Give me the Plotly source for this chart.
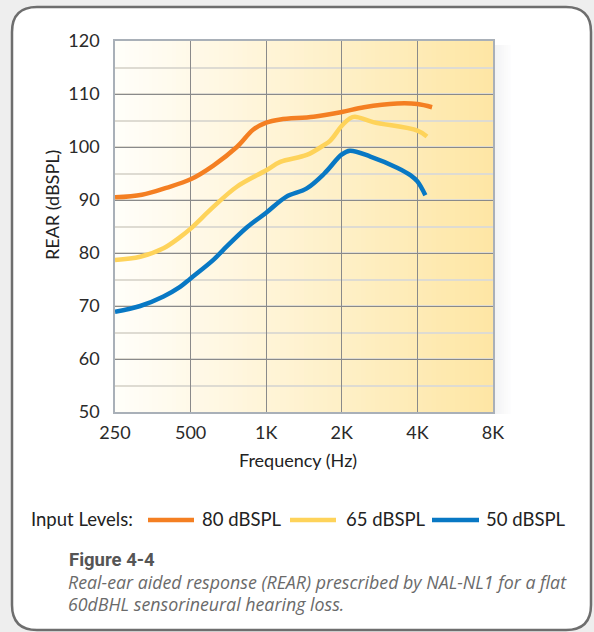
import plotly.graph_objects as go

# ---------------- data ----------------
f80 = [250, 320, 400, 500, 616, 764, 889, 1000, 1138, 1544, 2000, 2453, 3320, 4000, 4576]
v80 = [90.5, 91.0, 92.3, 93.9, 96.5, 100.0, 103.3, 104.6, 105.2, 105.7, 106.6, 107.5, 108.2, 108.1, 107.5]

f65 = [250, 315, 390, 454, 500, 616, 764, 1000, 1138, 1451, 1704, 1800, 2000, 2153, 2254, 2666, 4000, 4366]
v65 = [78.7, 79.3, 80.9, 83.0, 84.6, 88.7, 92.5, 95.6, 97.2, 98.5, 100.4, 101.2, 104.0, 105.4, 105.7, 104.7, 103.1, 102.0]

f50 = [250, 315, 390, 454, 500, 616, 675, 841, 1000, 1200, 1451, 1704, 2000, 2153, 2598, 3320, 3750, 4000, 4303]
v50 = [68.9, 70.0, 71.8, 73.6, 75.2, 78.7, 80.6, 84.9, 87.6, 90.6, 92.2, 95.0, 98.6, 99.3, 98.2, 96.1, 94.7, 93.5, 90.9]

series_names = ["80 dBSPL", "65 dBSPL", "50 dBSPL"]
series_colors = ["#F47F22", "#FED35A", "#0878C4"]

x_tickvals = [250, 500, 1000, 2000, 4000, 8000]
x_ticktext = ["250", "500", "1K", "2K", "4K", "8K"]
y_tickvals = [50, 60, 70, 80, 90, 100, 110, 120]

# ---------------- geometry helpers ----------------
W, H = 594, 632
ML, MR, MT, MB = 115, 101, 41, 220
PW, PH = W - ML - MR, H - MT - MB


def px(x):
    return (x - ML) / PW


def py(y):
    return (H - MB - y) / PH


fig = go.Figure()
for fx, vy, name, col in zip([f80, f65, f50], [v80, v65, v50], series_names, series_colors):
    fig.add_trace(go.Scatter(x=fx, y=vy, mode="lines", name=name, showlegend=False,
                             line=dict(color=col, width=4.5, shape="spline", smoothing=1.0),
                             hoverinfo="skip"))

shapes = []
# outer rounded frame
l, t, r, b, rad = 12, 7, 591, 630, 25
path = (f"M {px(l+rad)},{py(t)} L {px(r-rad)},{py(t)} Q {px(r)},{py(t)} {px(r)},{py(t+rad)} "
        f"L {px(r)},{py(b-rad)} Q {px(r)},{py(b)} {px(r-rad)},{py(b)} "
        f"L {px(l+rad)},{py(b)} Q {px(l)},{py(b)} {px(l)},{py(b-rad)} "
        f"L {px(l)},{py(t+rad)} Q {px(l)},{py(t)} {px(l+rad)},{py(t)} Z")
shapes.append(dict(type="path", path=path, xref="paper", yref="paper",
                   fillcolor="white", line=dict(color="#6e6e6e", width=2.5), layer="below"))

# soft shadow right of plot area
for i in range(10):
    a = 0.10 * (1 - i / 10)
    shapes.append(dict(type="rect", xref="paper", yref="paper",
                       x0=1 + i * 1.8 / PW, x1=1 + (i + 1) * 1.8 / PW, y0=-2 / PH, y1=1 - 4 / PH,
                       fillcolor=f"rgba(120,125,135,{a:.3f})", line=dict(width=0), layer="below"))

# gradient background of plot area
N = 80
c0 = (255, 254, 250)
c1 = (254, 230, 164)
for i in range(N):
    tt = (i + 0.5) / N
    c = tuple(round(c0[k] + (c1[k] - c0[k]) * tt) for k in range(3))
    shapes.append(dict(type="rect", xref="paper", yref="paper",
                       x0=i / N, x1=(i + 1) / N + 0.002, y0=0, y1=1,
                       fillcolor=f"rgb{c}", line=dict(width=0), layer="below"))

# legend (drawn manually to match sample length)
leg_y = 520
leg_lines = [(148, 194), (290, 336), (432, 479)]
leg_text_x = [200, 344, 484]
for (x0, x1), col in zip(leg_lines, series_colors):
    shapes.append(dict(type="line", xref="paper", yref="paper", x0=px(x0), x1=px(x1),
                       y0=py(leg_y), y1=py(leg_y), line=dict(color=col, width=4.5), layer="above"))


def ann(text, x, y, size, family="Lato", color="#222", xanchor="left", angle=0):
    return dict(text=text, x=px(x), y=py(y), xref="paper", yref="paper",
                xanchor=xanchor, yanchor="middle", showarrow=False, textangle=angle,
                font=dict(family=family, size=size, color=color))


annotations = [
    ann("REAR (dBSPL)", 52, 205, 18, xanchor="center", angle=-90),
    ann("Frequency (Hz)", 298, 460, 18, xanchor="center"),
    ann("Input Levels:", 29, 519, 18.5),
    ann("<b>Figure 4-4</b>", 67, 560, 18.5, family="Roboto", color="#555"),
    ann("<i>Real-ear aided response (REAR) prescribed by NAL-NL1 for a flat</i>", 66, 582, 17.8,
        family="Open Sans", color="#6a6a6a"),
    ann("<i>60dBHL sensorineural hearing loss.</i>", 66, 604, 17.8,
        family="Open Sans", color="#6a6a6a"),
]
for name, tx in zip(series_names, leg_text_x):
    annotations.append(ann(name, tx, 519, 18.5))

fig.update_layout(
    width=W, height=H, margin=dict(l=ML, r=MR, t=MT, b=MB),
    paper_bgcolor="#eeeeee", plot_bgcolor="rgba(0,0,0,0)",
    shapes=shapes, annotations=annotations,
    showlegend=False,
    font=dict(family="Lato", color="#333"),
)
fig.update_xaxes(type="log", range=[2.39794, 3.90309], tickvals=x_tickvals, ticktext=x_ticktext,
                 showgrid=True, gridcolor="#8a8a8a", gridwidth=1,
                 showline=True, linecolor="#a9b0b8", linewidth=1.5, mirror=True,
                 ticks="", ticklabelstandoff=4, zeroline=False,
                 tickfont=dict(family="Lato", size=18, color="#2a2a2a"))
fig.update_yaxes(range=[50, 120], tickvals=y_tickvals,
                 showgrid=True, gridcolor="#8a8a8a", gridwidth=1,
                 minor=dict(dtick=5, showgrid=True, gridcolor="#dedbd2", gridwidth=1.5),
                 showline=True, linecolor="#a9b0b8", linewidth=1.5, mirror=True,
                 ticks="", ticklabelstandoff=10, zeroline=False,
                 tickfont=dict(family="Lato", size=18, color="#2a2a2a"))

fig.write_html("out.html", config={"displayModeBar": False},
               post_script="document.body.style.margin='0px';"
                           "document.body.style.overflow='hidden';"
                           "document.body.style.background='#eeeeee';")
